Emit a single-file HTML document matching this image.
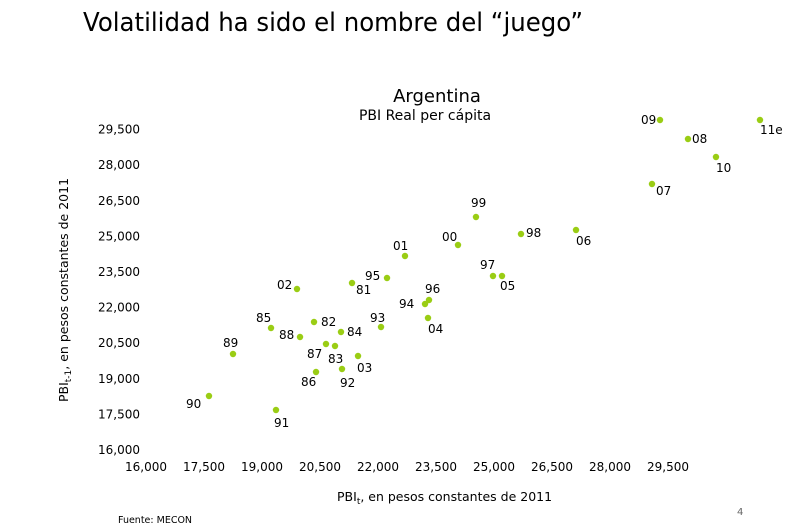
<!DOCTYPE html>
<html><head><meta charset="utf-8"><style>
body{margin:0;background:#fff;width:811px;height:525px;overflow:hidden}
svg{display:block;font-family:"DejaVu Sans","Liberation Sans",sans-serif}
</style></head><body>
<svg id="chart" width="811" height="525" viewBox="0 0 811 525">
<text x="83" y="31" font-size="26" textLength="500" lengthAdjust="spacingAndGlyphs" fill="#000">Volatilidad ha sido el nombre del “juego”</text>
<text x="437" y="102" font-size="18" text-anchor="middle">Argentina</text>
<text x="425" y="120" font-size="14" text-anchor="middle">PBI Real per cápita</text>
<text transform="translate(68,290) rotate(-90)" font-size="12.5" text-anchor="middle">PBI<tspan font-size="9" dy="3">t-1</tspan><tspan dy="-3">, en pesos constantes de 2011</tspan></text>
<text x="337" y="501" font-size="12.5">PBI<tspan font-size="9" dy="3">t</tspan><tspan dy="-3">, en pesos constantes de 2011</tspan></text>
<text x="118" y="523" font-size="9.5">Fuente: MECON</text>
<text x="737" y="515" font-size="10" fill="#666">4</text>
<g id="ticks"></g><g id="points"></g>
</svg>
<script>
const xTicks=[16000,17500,19000,20500,22000,23500,25000,26500,28000,29500];
const yTicks=[16000,17500,19000,20500,22000,23500,25000,26500,28000,29500];
const years=["09","08","10","11e","07","06","98","99","00","01","97","05","95","81","02","96","94","04","93","82","84","85","88","89","87","83","03","86","92","90","91"];
const xVals=[29293,30017,30741,31879,29086,27121,25698,24534,24069,22698,24974,25207,22233,21328,19905,23319,23216,23293,22078,20345,21043,19233,19983,18250,20655,20888,21483,20397,21069,17629,19362];
const yVals=[29862,29062,28303,29862,27166,25228,25059,25775,24596,24132,23289,23289,23205,22994,22742,22278,22110,21520,21140,21351,20930,21098,20719,20003,20424,20340,19919,19244,19371,18233,17643];
const labelOffsets=[[-19,4],[4,4],[0,15],[0,14],[4,11],[0,15],[5,3],[-5,-10],[-16,-4],[-12,-6],[-13,-7],[-2,14],[-22,2],[4,11],[-20,0],[-4,-7],[-26,4],[0,15],[-11,-5],[7,4],[6,4],[-15,-6],[-21,2],[-10,-7],[-19,14],[-7,17],[-1,16],[-15,14],[-2,18],[-23,12],[-2,17]];
const sx=v=>146+(v-16000)/1500*58;
const sy=v=>449-(v-16000)/1500*35.6;
const NS="http://www.w3.org/2000/svg";
const tg=document.getElementById('ticks'),pg=document.getElementById('points');
xTicks.forEach(t=>{const e=document.createElementNS(NS,'text');


e.setAttribute('x',sx(t));e.setAttribute('y',471);e.setAttribute('font-size','12');e.setAttribute('text-anchor','middle');e.textContent=t.toLocaleString('en-US');tg.appendChild(e);});
yTicks.forEach(t=>{const e=document.createElementNS(NS,'text');


e.setAttribute('x',140);e.setAttribute('y',sy(t)+5);e.setAttribute('font-size','12');e.setAttribute('text-anchor','end');e.textContent=t.toLocaleString('en-US');tg.appendChild(e);});
years.forEach((y,i)=>{const cx=sx(xVals[i]),cy=sy(yVals[i]);
const c=document.createElementNS(NS,'circle');


c.setAttribute('cx',cx);c.setAttribute('cy',cy);c.setAttribute('r',3.2);c.setAttribute('fill','#9acd14');pg.appendChild(c);
const t=document.createElementNS(NS,'text');


t.setAttribute('x',cx+labelOffsets[i][0]);t.setAttribute('y',cy+labelOffsets[i][1]);t.setAttribute('font-size','12');t.textContent=y;pg.appendChild(t);});
</script>
</body></html>
